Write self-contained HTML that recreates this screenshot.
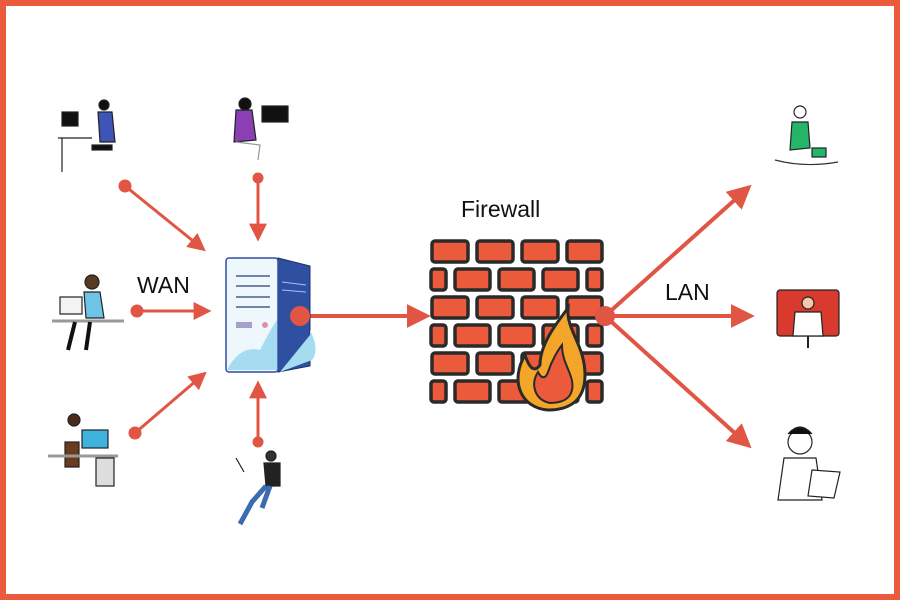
<!DOCTYPE html>
<html><head><meta charset="utf-8"><style>
html,body{margin:0;padding:0;background:#fff}
body{width:900px;height:600px;overflow:hidden}
</style></head><body>
<svg width="900" height="600" viewBox="0 0 900 600" xmlns="http://www.w3.org/2000/svg" font-family="Liberation Sans, sans-serif">
<rect x="3" y="3" width="894" height="594" fill="#fff" stroke="#ec5a3c" stroke-width="6"/>
<defs>
<marker id="ah" viewBox="0 0 10 10" refX="8" refY="5" markerWidth="6" markerHeight="6" orient="auto"><path d="M0,0L10,5L0,10z" fill="#e05544"/></marker>
<marker id="ah2" viewBox="0 0 10 10" refX="8" refY="5" markerWidth="6" markerHeight="6" orient="auto"><path d="M0,0L10,5L0,10z" fill="#e05544"/></marker>
</defs>
<g stroke="#e05544" stroke-width="3" fill="#e05544">
<line x1="125" y1="186" x2="203" y2="249" marker-end="url(#ah)"/><circle cx="125" cy="186" r="5"/>
<line x1="258" y1="178" x2="258" y2="238" marker-end="url(#ah)"/><circle cx="258" cy="178" r="4"/>
<line x1="137" y1="311" x2="208" y2="311" marker-end="url(#ah)"/><circle cx="137" cy="311" r="5"/>
<line x1="135" y1="433" x2="204" y2="374" marker-end="url(#ah)"/><circle cx="135" cy="433" r="5"/>
<line x1="258" y1="442" x2="258" y2="384" marker-end="url(#ah)"/><circle cx="258" cy="442" r="4"/>
<line x1="300" y1="316" x2="426" y2="316" stroke-width="4" marker-end="url(#ah2)"/>
<line x1="605" y1="316" x2="748" y2="188" stroke-width="4" marker-end="url(#ah2)"/>
<line x1="605" y1="316" x2="750" y2="316" stroke-width="4" marker-end="url(#ah2)"/>
<line x1="605" y1="316" x2="748" y2="445" stroke-width="4" marker-end="url(#ah2)"/>
</g>
<text x="137" y="293" font-size="23" fill="#111">WAN</text>
<text x="461" y="217" font-size="23" fill="#111">Firewall</text>
<text x="665" y="300" font-size="23" fill="#111">LAN</text>
<!-- server -->
<path d="M278,258 L310,266 L310,366 L278,372z" fill="#2f4fa0" stroke="#1d2f66"/>
<path d="M282,282 L306,285 M282,290 L306,292" stroke="#9fc4ff" stroke-width="1"/>
<path d="M310,330 Q320,350 312,360 L280,372 L310,335z" fill="#a6dcef"/>
<rect x="226" y="258" width="52" height="114" rx="3" fill="#eef7fc" stroke="#2f4fa0" stroke-width="1.5"/>
<path d="M227,370 Q240,345 260,350 Q270,330 277,320 L277,370z" fill="#a6dcef"/>
<g stroke="#4a5f90" stroke-width="1.5"><line x1="236" y1="276" x2="270" y2="276"/><line x1="236" y1="286" x2="270" y2="286"/><line x1="236" y1="297" x2="270" y2="297"/><line x1="236" y1="307" x2="270" y2="307"/></g>
<rect x="236" y="322" width="16" height="6" fill="#a8a0cc"/><circle cx="265" cy="325" r="3" fill="#e08db0"/>
<circle cx="300" cy="316" r="10" fill="#e05544"/>
<!-- firewall -->
<g fill="#ec5a3c" stroke="#2a2a2a" stroke-width="3.5">
<rect x="432" y="241" width="36" height="21" rx="3"/><rect x="477" y="241" width="36" height="21" rx="3"/><rect x="522" y="241" width="36" height="21" rx="3"/><rect x="567" y="241" width="35" height="21" rx="3"/>
<rect x="431" y="269" width="15" height="21" rx="3"/><rect x="455" y="269" width="35" height="21" rx="3"/><rect x="499" y="269" width="35" height="21" rx="3"/><rect x="543" y="269" width="35" height="21" rx="3"/><rect x="587" y="269" width="15" height="21" rx="3"/>
<rect x="432" y="297" width="36" height="21" rx="3"/><rect x="477" y="297" width="36" height="21" rx="3"/><rect x="522" y="297" width="36" height="21" rx="3"/><rect x="567" y="297" width="35" height="21" rx="3"/>
<rect x="431" y="325" width="15" height="21" rx="3"/><rect x="455" y="325" width="35" height="21" rx="3"/><rect x="499" y="325" width="35" height="21" rx="3"/><rect x="543" y="325" width="35" height="21" rx="3"/><rect x="587" y="325" width="15" height="21" rx="3"/>
<rect x="432" y="353" width="36" height="21" rx="3"/><rect x="477" y="353" width="36" height="21" rx="3"/><rect x="522" y="353" width="36" height="21" rx="3"/><rect x="567" y="353" width="35" height="21" rx="3"/>
<rect x="431" y="381" width="15" height="21" rx="3"/><rect x="455" y="381" width="35" height="21" rx="3"/><rect x="499" y="381" width="35" height="21" rx="3"/><rect x="543" y="381" width="35" height="21" rx="3"/><rect x="587" y="381" width="15" height="21" rx="3"/>
</g>
<path d="M548,410 C520,408 510,380 525,355 C530,370 535,372 540,365 C540,345 555,325 568,308 C566,330 585,345 585,375 C585,400 570,410 548,410z" fill="#f4a62a" stroke="#2a2a2a" stroke-width="3"/>
<path d="M550,403 C535,400 530,385 538,372 C542,380 546,378 548,372 C552,360 558,350 562,345 C562,365 575,375 572,390 C570,400 560,403 550,403z" fill="#ec5a3c" stroke="#2a2a2a" stroke-width="2"/>
<circle cx="605" cy="316" r="10" fill="#e05544"/>
<!-- people (simplified) -->
<g stroke="#222" stroke-width="1.2">
<rect x="62" y="112" width="16" height="14" fill="#111"/><line x1="58" y1="138" x2="92" y2="138"/><line x1="62" y1="138" x2="62" y2="172"/>
<circle cx="104" cy="105" r="5" fill="#111"/><path d="M98,112 L112,112 L115,142 L100,142z" fill="#3d55b5"/><rect x="92" y="145" width="20" height="5" fill="#111"/>
<rect x="262" y="106" width="26" height="16" fill="#111"/><circle cx="245" cy="104" r="6" fill="#111"/><path d="M236,110 L252,110 L256,140 L234,142z" fill="#8a3fb5"/>
<path d="M236,142 L260,145 L258,160" fill="none" stroke="#999"/>
<circle cx="92" cy="282" r="7" fill="#5a3a25"/><path d="M84,292 L100,292 L104,318 L86,318z" fill="#6ec4e6"/><rect x="60" y="297" width="22" height="17" fill="#f3f3f3"/><line x1="52" y1="321" x2="124" y2="321" stroke="#999" stroke-width="3"/><path d="M75,322 L68,350 M90,322 L86,350" stroke="#111" stroke-width="4"/>
<circle cx="74" cy="420" r="6" fill="#4a2b1a"/><rect x="65" y="442" width="14" height="25" fill="#6b3b1f"/><rect x="82" y="430" width="26" height="18" fill="#3fb3dd"/><line x1="48" y1="456" x2="118" y2="456" stroke="#999" stroke-width="3"/><rect x="96" y="458" width="18" height="28" fill="#ddd"/>
<circle cx="271" cy="456" r="5" fill="#333"/><path d="M264,463 L280,463 L280,486 L266,486z" fill="#222"/><path d="M266,486 L252,502 L240,524 M270,486 L262,508" stroke="#3b6bb0" stroke-width="5" fill="none"/><line x1="236" y1="458" x2="244" y2="472"/>
<circle cx="800" cy="112" r="6" fill="#fff"/><path d="M792,122 L808,122 L810,148 L790,150z" fill="#25b56a"/><rect x="812" y="148" width="14" height="9" fill="#25b56a"/><path d="M775,160 Q805,168 838,162" fill="none" stroke="#333"/>
<rect x="777" y="290" width="62" height="46" rx="3" fill="#d83a2e"/><circle cx="808" cy="303" r="6" fill="#f2c9a8"/><path d="M795,312 L821,312 L823,336 L793,336z" fill="#fff"/><line x1="808" y1="336" x2="808" y2="348" stroke-width="2"/>
<circle cx="800" cy="442" r="12" fill="#fff"/><path d="M788,434 Q800,420 812,434" fill="#111"/><path d="M784,458 L816,458 L822,500 L778,500z" fill="#fff"/><path d="M812,470 L840,472 L834,498 L808,496z" fill="#fff"/>
</g>
</svg>
</body></html>
